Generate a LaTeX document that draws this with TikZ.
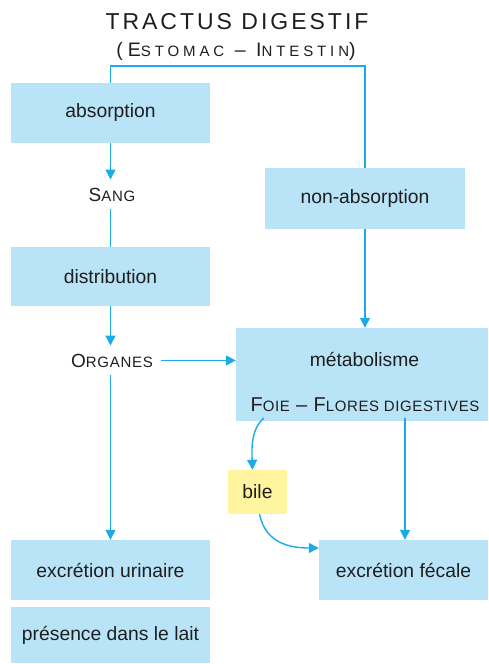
\documentclass[tikz,border=0pt]{standalone}
\usepackage{fontspec}
\setmainfont{Liberation Sans}
\usetikzlibrary{arrows.meta, positioning}
\definecolor{boxblue}{HTML}{B9E4F8}
\definecolor{linkblue}{HTML}{1BACE8}
\definecolor{bileyellow}{HTML}{FFF59E}
\definecolor{textgray}{HTML}{1E1E1E}
\newcommand{\petitcap}[2][15]{{\fontsize{#1}{#1}\selectfont #2}}

\begin{document}
\begin{tikzpicture}[
        x=1pt, y=-1pt,
        box/.style={rectangle, fill=boxblue, minimum width=199pt, minimum height=60pt, inner sep=0pt, text=textgray, font=\fontsize{19.3}{23}\selectfont},
        word/.style={inner sep=8pt, text=textgray, font=\fontsize{19}{22}\selectfont\addfontfeature{LetterSpace=5}},
        arrow/.style={-{Triangle[length=10pt, width=10pt]}, draw=linkblue, line width=1.4pt},
        link/.style={draw=linkblue, line width=1.4pt}
    ]
    \useasboundingbox (0,0) rectangle (488,664);
    \node[anchor=base, inner sep=0pt, text=textgray, font=\fontsize{23}{28}\selectfont\addfontfeature{LetterSpace=13}] (tractus) at (237,29) {TRACTUS DIGESTIF};
    \node[anchor=base, inner sep=0pt, text=textgray, font=\fontsize{19.5}{24}\selectfont\addfontfeature{LetterSpace=26}] (estomac) at (236,56) {(E\petitcap{STOMAC} -- I\petitcap{NTESTIN})};

    \node[box] (absorption) at (110.5,113) {absorption};
    \node[word, anchor=base] (sang) at (112,201) {S\petitcap{ANG}};
    \node[box, minimum height=59pt] (distribution) at (110.5,276.5) {distribution};
    \node[word, anchor=base] (organes) at (112,367) {O\petitcap{RGANES}};
    \node[box] (urinaire) at (110.5,570) {excrétion urinaire};
    \node[box, minimum height=56pt] (lait) at (110.5,635) {présence dans le lait};
    \node[box, minimum width=200pt, minimum height=61pt] (nonabs) at (365,198.5) {non-absorption};
    \node[box, minimum width=252pt, minimum height=93pt] (metab) at (362,374.5) {};
    \node[anchor=base, inner sep=0pt, text=textgray, font=\fontsize{19.3}{23}\selectfont] (metabtext) at (364.5,366) {métabolisme};
    \node[anchor=base, inner sep=0pt, text=textgray, font=\fontsize{20}{24}\selectfont\addfontfeature{LetterSpace=4}] (foie) at (365,411) {F\petitcap{OIE} -- F\petitcap{LORES DIGESTIVES}};
    \node[box, fill=bileyellow, minimum width=59pt, minimum height=44pt] (bile) at (257.5,492) {bile};
    \node[box, minimum width=169pt] (fecale) at (403.5,570) {excrétion fécale};

    \coordinate (foiebile) at (264,418);
    \coordinate (foiefecale) at (405,418);

    \draw[link] (absorption.north) -- ++(0,-17) -| (nonabs.north);
    \draw[arrow] (absorption.south) -- (absorption.south |- sang.north);
    \draw[link] (distribution.north |- sang.south) -- (distribution.north);
    \draw[arrow] (distribution.south) -- (distribution.south |- organes.north);
    \draw[arrow] (urinaire.north |- organes.south) -- (urinaire.north);
    \draw[arrow] (organes.east) -- (organes.east -| metab.west);
    \draw[arrow] (nonabs.south) -- (nonabs.south |- metab.north);
    \draw[arrow] (foiebile) .. controls +(-12,10) and +(-1,-25) .. ([xshift=-5pt]bile.north);
    \draw[arrow] (foiefecale) -- (foiefecale |- fecale.north);
    \draw[arrow] ([xshift=2pt]bile.south) .. controls +(6,29) and +(-29,0) .. ([yshift=22pt]fecale.west);
\end{tikzpicture}
\end{document}
